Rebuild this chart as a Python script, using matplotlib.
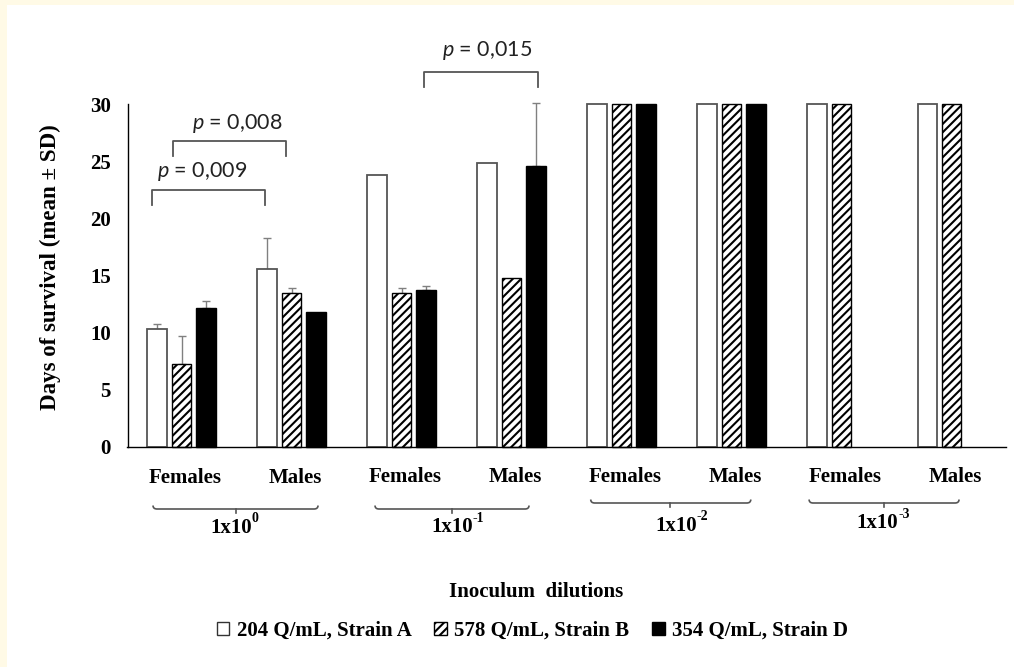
import matplotlib
matplotlib.use('Agg')
import matplotlib.pyplot as plt
import numpy as np
from matplotlib.patches import Patch, Rectangle, PathPatch
from matplotlib.path import Path

# ---------------- data ----------------
categories = ['Females', 'Males', 'Females', 'Males', 'Females', 'Males', 'Females', 'Males']
dilution_exponents = ['0', '-1', '-2', '-3']
series_labels = ['204 Q/mL, Strain A', '578 Q/mL, Strain B', '354 Q/mL, Strain D']

strain_a = [10.3, 15.6, 23.8, 24.8, 30, 30, 30, 30]
strain_a_sd = [0.5, 2.7, 0, 0, 0, 0, 0, 0]
strain_b = [7.3, 13.5, 13.5, 14.8, 30, 30, 30, 30]
strain_b_sd = [2.4, 0.45, 0.45, 0, 0, 0, 0, 0]
strain_d = [12.2, 11.8, 13.7, 24.6, 30, 30, None, None]
strain_d_sd = [0.55, 0, 0.35, 5.45, 0, 0, 0, 0]

y_ticks = [0, 5, 10, 15, 20, 25, 30]
p_values = ['0,009', '0,008', '0,015']
xlabel = 'Inoculum  dilutions'
ylabel = 'Days of survival (mean ± SD)'

# ---------------- style ----------------
plt.rcParams['hatch.linewidth'] = 1.5
plt.rcParams['mathtext.fontset'] = 'custom'
plt.rcParams['mathtext.rm'] = 'Lato'
plt.rcParams['mathtext.it'] = 'Lato:italic'

SERIF = 'Liberation Serif'
FS = 15

fig = plt.figure(figsize=(10.14, 6.67), dpi=100)
fig.patch.set_facecolor('white')
# cream strips on top and left edge
fig.patches.append(Rectangle((0, 1 - 5 / 667), 1, 5 / 667, transform=fig.transFigure,
                             facecolor='#FFFAE6', edgecolor='none', zorder=-10))
fig.patches.append(Rectangle((0, 0), 7 / 1014, 1, transform=fig.transFigure,
                             facecolor='#FFFAE6', edgecolor='none', zorder=-10))

ax = fig.add_axes([127.5 / 1014, 1 - 447 / 667, (1006 - 127.5) / 1014, 343 / 667])

n = len(categories)
x = np.arange(n)
off = 0.221
w = 0.177

series = [
    (strain_a, strain_a_sd, dict(facecolor='white', edgecolor='#555555', linewidth=1.3)),
    (strain_b, strain_b_sd, dict(facecolor='white', edgecolor='black', linewidth=1.0, hatch='////')),
    (strain_d, strain_d_sd, dict(facecolor='black', edgecolor='black', linewidth=1.0)),
]

for k, (vals, sds, st) in enumerate(series):
    xs = x + (k - 1) * off
    keep = [i for i, v in enumerate(vals) if v is not None]
    hv = [vals[i] for i in keep]
    bars = ax.bar(xs[keep], hv, width=w, zorder=2, **st)
    for b in bars:
        b.set_clip_on(False)
    ek = [i for i in keep if sds[i] > 0]
    if ek:
        _, caps, lines = ax.errorbar(xs[ek], [vals[i] for i in ek],
                                     yerr=[np.zeros(len(ek)), [sds[i] for i in ek]],
                                     fmt='none', ecolor='#808080', elinewidth=1.0, capsize=3,
                                     capthick=1.0, zorder=1)
        for c in list(caps) + list(lines):
            c.set_clip_on(False)

ax.set_xlim(-0.491, 7.495)
ax.set_ylim(0, 30)
ax.set_yticks(y_ticks)
ax.set_yticklabels([str(t) for t in y_ticks], fontfamily=SERIF, fontweight='bold', fontsize=FS)
ax.tick_params(axis='y', length=0, pad=12)
ax.set_xticks([])
for s in ['top', 'right']:
    ax.spines[s].set_visible(False)
ax.spines['left'].set_linewidth(1.0)
ax.spines['bottom'].set_linewidth(1.0)

ax.set_ylabel(ylabel, fontfamily=SERIF, fontweight='bold', fontsize=16.5)
ax.yaxis.label.set_va('center')
ax.yaxis.set_label_coords((50 - 127.5) / 878.5, 0.523)

PX = 343 / 30.0  # pixels per y unit


def ypx(p):
    return (447 - p) / PX


# category labels
for i, c in enumerate(categories):
    yy = ypx(478) if i < 2 else ypx(476.5)
    ax.text(i + 0.035, yy, c, ha='center', va='center', fontfamily=SERIF,
            fontweight='bold', fontsize=FS, clip_on=False)

# group braces and labels
brace_left = [-0.259, 1.759, 3.72, 5.705]
brace_right = [1.241, 3.159, 5.175, 7.068]
brace_mid = [0.493, 2.456, 4.44, 6.386]
brace_y = [509, 509, 503, 503]
label_x = [0.494, 2.502, 4.54, 6.37]
label_y = [528, 527, 526, 523]


def brace(x0, x1, xc, yp):
    y0 = ypx(yp)
    h = 3.5 / PX
    t = 4 / PX
    dx = 4 / 110
    verts = [(x0, y0 + h), (x0, y0), (x0 + dx, y0), (x1 - dx, y0), (x1, y0), (x1, y0 + h)]
    codes = [Path.MOVETO, Path.CURVE3, Path.CURVE3, Path.LINETO, Path.CURVE3, Path.CURVE3]
    pp = PathPatch(Path(verts, codes), facecolor='none', edgecolor='#555555', lw=1.2, clip_on=False)
    ax.add_patch(pp)
    ax.plot([xc, xc], [y0, y0 - t], color='#555555', lw=1.2, clip_on=False)


for i in range(4):
    brace(brace_left[i], brace_right[i], brace_mid[i], brace_y[i])
    base = ax.text(label_x[i] - 0.045, ypx(label_y[i]), '1x10', ha='center', va='center',
                   fontfamily=SERIF, fontweight='bold', fontsize=FS, clip_on=False)
    ax.annotate(dilution_exponents[i], xy=(1.0, 0.95), xycoords=base, ha='left', va='center',
                fontfamily=SERIF, fontweight='bold', fontsize=10, annotation_clip=False)

# significance brackets
br_left = [-0.27, -0.08, 2.205]
br_right = [0.76, 0.95, 3.238]
br_top = [22.5, 26.8, 32.8]
br_drop = 1.35
txt_x = [0.186, 0.505, 2.777]
txt_y = [24.08, 28.26, 34.7]
for i in range(3):
    ax.plot([br_left[i], br_left[i], br_right[i], br_right[i]],
            [br_top[i] - br_drop, br_top[i], br_top[i], br_top[i] - br_drop],
            color='#555555', lw=1.3, clip_on=False, zorder=3)
    ax.text(txt_x[i], txt_y[i], r'$\mathit{p}$ = ' + p_values[i], ha='center', va='center',
            fontfamily='Lato', fontsize=15.5, color='#222222', clip_on=False)

# x title
fig.text(536 / 1014, 1 - 592 / 667, xlabel, ha='center', va='center', fontfamily=SERIF,
         fontweight='bold', fontsize=FS)

# legend
handles = [
    Patch(facecolor='white', edgecolor='#333333', linewidth=1.0),
    Patch(facecolor='white', edgecolor='black', linewidth=1.0, hatch='////'),
    Patch(facecolor='black', edgecolor='black', linewidth=1.0),
]
leg = fig.legend(handles, series_labels, loc='center', bbox_to_anchor=(532.5 / 1014, 1 - 631 / 667),
                 ncol=3, frameon=False, handlelength=0.6, handleheight=0.6, handletextpad=0.35,
                 columnspacing=1.1, prop={'family': SERIF, 'weight': 'bold', 'size': FS})

fig.savefig('out.png', dpi=100)
